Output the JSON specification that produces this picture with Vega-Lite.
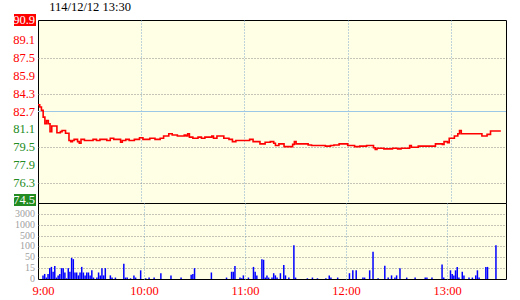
{
  "$schema": "https://vega.github.io/schema/vega-lite/v6.json",
  "background": "white",
  "padding": {"left": 13, "top": 0, "right": 0, "bottom": 0},
  "title": {"text": "114/12/12 13:30", "anchor": "start", "dx": 36, "font": "Liberation Serif", "fontSize": 12.5, "fontWeight": "normal", "color": "black", "offset": 1},
  "config": {"view": {"stroke": null}, "axis": {"title": null}},
  "columns": 2,
  "spacing": {"row": 0, "column": 2},
  "bounds": "flush",
  "datasets": {
    "priceLabels": [
      {"price": 90.9, "kind": "limitup"},
      {"price": 89.1, "kind": "up"},
      {"price": 87.5, "kind": "up"},
      {"price": 85.9, "kind": "up"},
      {"price": 84.3, "kind": "up"},
      {"price": 82.7, "kind": "up"},
      {"price": 81.1, "kind": "down"},
      {"price": 79.5, "kind": "down"},
      {"price": 77.9, "kind": "down"},
      {"price": 76.3, "kind": "down"},
      {"price": 74.5, "kind": "limitdown"}
    ],
    "volLabels": [
      {"vol": 3000}, {"vol": 1000}, {"vol": 500}, {"vol": 100}, {"vol": 50}, {"vol": 15}, {"vol": 0}
    ],
    "price": [
      {"t": 0, "p": 83.3}, {"t": 1, "p": 83.1}, {"t": 2, "p": 82.8}, {"t": 3, "p": 82.2}, {"t": 4, "p": 81.6},
      {"t": 5, "p": 81.9}, {"t": 6, "p": 81.6}, {"t": 7, "p": 80.9}, {"t": 8, "p": 81.4}, {"t": 11, "p": 80.8},
      {"t": 13, "p": 80.9}, {"t": 14, "p": 81.0}, {"t": 16, "p": 80.75}, {"t": 18, "p": 80.1}, {"t": 19, "p": 80.0},
      {"t": 20, "p": 80.1}, {"t": 21, "p": 80.2}, {"t": 23, "p": 80.0}, {"t": 24, "p": 79.85}, {"t": 25, "p": 80.2},
      {"t": 27, "p": 80.1}, {"t": 30, "p": 80.1}, {"t": 32, "p": 80.2}, {"t": 34, "p": 80.1}, {"t": 36, "p": 80.2},
      {"t": 40, "p": 80.1}, {"t": 42, "p": 80.3}, {"t": 44, "p": 80.2}, {"t": 48, "p": 79.95}, {"t": 49, "p": 80.1},
      {"t": 51, "p": 80.2}, {"t": 53, "p": 80.1}, {"t": 56, "p": 80.2}, {"t": 59, "p": 80.35}, {"t": 61, "p": 80.2},
      {"t": 65, "p": 80.3}, {"t": 68, "p": 80.2}, {"t": 71, "p": 80.3}, {"t": 73, "p": 80.5}, {"t": 76, "p": 80.7},
      {"t": 78, "p": 80.6}, {"t": 81, "p": 80.5}, {"t": 85, "p": 80.6}, {"t": 86, "p": 80.5}, {"t": 87, "p": 80.7},
      {"t": 88, "p": 80.4}, {"t": 90, "p": 80.3}, {"t": 93, "p": 80.4}, {"t": 95, "p": 80.3}, {"t": 97, "p": 80.4},
      {"t": 101, "p": 80.5}, {"t": 102, "p": 80.3}, {"t": 104, "p": 80.5}, {"t": 108, "p": 80.3}, {"t": 111, "p": 80.2},
      {"t": 113, "p": 80.0}, {"t": 115, "p": 80.1}, {"t": 123, "p": 80.2}, {"t": 125, "p": 80.0}, {"t": 129, "p": 79.8},
      {"t": 132, "p": 79.95}, {"t": 135, "p": 80.0}, {"t": 137, "p": 79.85}, {"t": 138, "p": 79.65}, {"t": 140, "p": 79.8},
      {"t": 143, "p": 79.55}, {"t": 148, "p": 79.75}, {"t": 149, "p": 80.0}, {"t": 150, "p": 79.8}, {"t": 157, "p": 79.7},
      {"t": 159, "p": 79.65}, {"t": 167, "p": 79.6}, {"t": 170, "p": 79.65}, {"t": 172, "p": 79.7}, {"t": 175, "p": 79.8},
      {"t": 180, "p": 79.65}, {"t": 184, "p": 79.55}, {"t": 187, "p": 79.6}, {"t": 191, "p": 79.65}, {"t": 195, "p": 79.45},
      {"t": 196, "p": 79.3}, {"t": 197, "p": 79.4}, {"t": 201, "p": 79.35}, {"t": 206, "p": 79.4}, {"t": 209, "p": 79.35},
      {"t": 211, "p": 79.4}, {"t": 216, "p": 79.65}, {"t": 217, "p": 79.5}, {"t": 221, "p": 79.6}, {"t": 231, "p": 79.8},
      {"t": 235, "p": 79.75}, {"t": 236, "p": 80.0}, {"t": 238, "p": 79.9}, {"t": 239, "p": 80.3}, {"t": 242, "p": 80.5},
      {"t": 244, "p": 80.7}, {"t": 245, "p": 81.0}, {"t": 246, "p": 80.7}, {"t": 258, "p": 80.5}, {"t": 261, "p": 80.65},
      {"t": 263, "p": 80.95}, {"t": 269, "p": 80.95}
    ],
    "vol": [
      {"t": 0, "v": 5}, {"t": 1, "v": 7}, {"t": 2, "v": 2}, {"t": 3, "v": 7}, {"t": 4, "v": 15}, {"t": 5, "v": 19},
      {"t": 6, "v": 10}, {"t": 7, "v": 22}, {"t": 8, "v": 2}, {"t": 9, "v": 5}, {"t": 10, "v": 7}, {"t": 11, "v": 15},
      {"t": 12, "v": 15}, {"t": 13, "v": 9}, {"t": 14, "v": 1}, {"t": 15, "v": 15}, {"t": 16, "v": 10}, {"t": 17, "v": 48},
      {"t": 18, "v": 44}, {"t": 19, "v": 9}, {"t": 20, "v": 9}, {"t": 21, "v": 5}, {"t": 22, "v": 9}, {"t": 23, "v": 19},
      {"t": 24, "v": 9}, {"t": 25, "v": 5}, {"t": 26, "v": 9}, {"t": 27, "v": 9}, {"t": 28, "v": 5}, {"t": 29, "v": 12},
      {"t": 30, "v": 2}, {"t": 32, "v": 2}, {"t": 33, "v": 9}, {"t": 34, "v": 5}, {"t": 35, "v": 15}, {"t": 36, "v": 5},
      {"t": 37, "v": 15}, {"t": 40, "v": 5}, {"t": 41, "v": 2}, {"t": 43, "v": 2}, {"t": 48, "v": 29}, {"t": 49, "v": 2},
      {"t": 50, "v": 2}, {"t": 52, "v": 1}, {"t": 54, "v": 5}, {"t": 55, "v": 2}, {"t": 58, "v": 12}, {"t": 61, "v": 1},
      {"t": 63, "v": 2}, {"t": 66, "v": 2}, {"t": 70, "v": 8}, {"t": 76, "v": 5}, {"t": 82, "v": 2}, {"t": 88, "v": 6},
      {"t": 89, "v": 7}, {"t": 90, "v": 15}, {"t": 100, "v": 9}, {"t": 109, "v": 2}, {"t": 112, "v": 10}, {"t": 113, "v": 10},
      {"t": 114, "v": 22}, {"t": 117, "v": 2}, {"t": 118, "v": 1}, {"t": 119, "v": 5}, {"t": 122, "v": 2}, {"t": 125, "v": 19},
      {"t": 126, "v": 10}, {"t": 127, "v": 5}, {"t": 130, "v": 44}, {"t": 131, "v": 42}, {"t": 132, "v": 2}, {"t": 133, "v": 5},
      {"t": 134, "v": 2}, {"t": 136, "v": 2}, {"t": 137, "v": 8}, {"t": 138, "v": 5}, {"t": 139, "v": 2}, {"t": 141, "v": 8},
      {"t": 143, "v": 25}, {"t": 144, "v": 5}, {"t": 146, "v": 2}, {"t": 149, "v": 145}, {"t": 150, "v": 2}, {"t": 157, "v": 1},
      {"t": 160, "v": 2}, {"t": 163, "v": 1}, {"t": 168, "v": 1}, {"t": 170, "v": 5}, {"t": 171, "v": 2}, {"t": 175, "v": 2},
      {"t": 182, "v": 8}, {"t": 184, "v": 12}, {"t": 186, "v": 12}, {"t": 190, "v": 2}, {"t": 191, "v": 2}, {"t": 194, "v": 12},
      {"t": 196, "v": 75}, {"t": 199, "v": 1}, {"t": 203, "v": 23}, {"t": 205, "v": 2}, {"t": 207, "v": 5}, {"t": 209, "v": 2},
      {"t": 210, "v": 5}, {"t": 212, "v": 15}, {"t": 216, "v": 2}, {"t": 221, "v": 2}, {"t": 227, "v": 2}, {"t": 228, "v": 2},
      {"t": 231, "v": 2}, {"t": 237, "v": 27}, {"t": 238, "v": 2}, {"t": 242, "v": 12}, {"t": 243, "v": 7}, {"t": 244, "v": 5},
      {"t": 245, "v": 12}, {"t": 246, "v": 19}, {"t": 247, "v": 2}, {"t": 249, "v": 10}, {"t": 250, "v": 5}, {"t": 253, "v": 2},
      {"t": 255, "v": 2}, {"t": 257, "v": 5}, {"t": 258, "v": 12}, {"t": 259, "v": 2}, {"t": 263, "v": 19}, {"t": 264, "v": 19},
      {"t": 269, "v": 145}
    ]
  },
  "concat": [
    {
      "width": 22, "height": 183,
      "data": {"name": "priceLabels"},
      "encoding": {
        "y": {"field": "price", "type": "quantitative", "scale": {"domain": [74.5, 90.9], "nice": false, "zero": false}, "axis": null}
      },
      "layer": [
        {
          "transform": [{"filter": "datum.kind == 'limitup'"}],
          "mark": {"type": "rect", "height": 12, "color": "#ff0000"}
        },
        {
          "transform": [{"filter": "datum.kind == 'limitdown'"}],
          "mark": {"type": "rect", "height": 12, "color": "#228b22", "yOffset": -3}
        },
        {
          "transform": [{"filter": "datum.kind != 'limitdown'"}],
          "mark": {"type": "text", "align": "right", "baseline": "middle", "font": "Liberation Serif", "fontSize": 12.5, "dx": -1},
          "encoding": {
            "x": {"value": "width"},
            "text": {"field": "price", "type": "quantitative", "format": ".1f"},
            "color": {"field": "kind", "type": "nominal", "scale": {"domain": ["limitup", "up", "down"], "range": ["#ffffff", "#ff0000", "#228b22"]}, "legend": null}
          }
        },
        {
          "transform": [{"filter": "datum.kind == 'limitdown'"}],
          "mark": {"type": "text", "align": "right", "baseline": "middle", "font": "Liberation Serif", "fontSize": 12.5, "dx": -1, "dy": -3, "color": "#ffffff"},
          "encoding": {
            "x": {"value": "width"},
            "text": {"field": "price", "type": "quantitative", "format": ".1f"}
          }
        }
      ]
    },
    {
      "width": 468, "height": 183,
      "view": {"fill": "#ffffe6", "stroke": "#000000", "strokeWidth": 1},
      "layer": [
        {
          "data": {"values": [{}]},
          "mark": {"type": "rule", "color": "#9bc8e6", "strokeWidth": 1.2},
          "encoding": {"y": {"datum": 82.7, "type": "quantitative", "scale": {"domain": [74.5, 90.9], "nice": false, "zero": false}}}
        },
        {
          "data": {"name": "price"},
          "mark": {"type": "line", "color": "#ff0000", "strokeWidth": 1.6, "interpolate": "step-after"},
          "encoding": {
            "x": {"field": "t", "type": "quantitative", "scale": {"domain": [0, 272], "nice": false, "zero": false},
              "axis": {"values": [0, 60, 120, 180, 240], "grid": true, "gridColor": "#7fa8cc", "gridDash": [1, 2], "gridOpacity": {"condition": {"test": "datum.value == 0", "value": 0}, "value": 1}, "labels": false, "ticks": false, "domain": false, "title": null}},
            "y": {"field": "p", "type": "quantitative", "scale": {"domain": [74.5, 90.9], "nice": false, "zero": false},
              "axis": {"values": [76.3, 77.9, 79.5, 81.1, 84.3, 85.9, 87.5, 89.1], "grid": true, "gridColor": "#888888", "gridDash": [1, 2], "labels": false, "ticks": false, "domain": false, "title": null}}
          }
        }
      ]
    },
    {
      "width": 22, "height": 76,
      "data": {"name": "volLabels"},
      "mark": {"type": "text", "align": "right", "baseline": "middle", "font": "Liberation Serif", "fontSize": 10, "dx": -1, "color": "#a0a0a0"},
      "encoding": {
        "x": {"value": "width"},
        "y": {"field": "vol", "type": "quantitative", "scale": {"domain": [0, 15, 50, 100, 500, 1000, 3000, 6000], "range": [76, 65.14, 54.29, 43.43, 32.57, 21.71, 10.86, 0], "nice": false, "zero": false}, "axis": null},
        "text": {"field": "vol", "type": "quantitative", "format": "d"}
      }
    },
    {
      "width": 468, "height": 76,
      "view": {"fill": "#ffffe6", "stroke": "#000000", "strokeWidth": 1},
      "data": {"name": "vol"},
      "mark": {"type": "bar", "color": "#0000ff", "width": 1.5},
      "encoding": {
        "x": {"field": "t", "type": "quantitative", "scale": {"domain": [0, 272], "nice": false, "zero": false},
          "axis": {"values": [0, 60, 120, 180, 240], "labelExpr": "(9 + datum.value / 60) + ':00'", "labelColor": "#ff0000", "labelFont": "Liberation Serif", "labelFontSize": 12.5, "labelPadding": 5, "labelFlush": false, "labelOverlap": false, "grid": true, "gridColor": "#7fa8cc", "gridDash": [1, 2], "gridOpacity": {"condition": {"test": "datum.value == 0", "value": 0}, "value": 1}, "ticks": false, "domain": false, "title": null}},
        "y": {"field": "v", "type": "quantitative", "scale": {"domain": [0, 15, 50, 100, 500, 1000, 3000, 6000], "range": [76, 65.14, 54.29, 43.43, 32.57, 21.71, 10.86, 0], "nice": false, "zero": false},
          "axis": {"values": [15, 50, 100, 500, 1000, 3000], "grid": true, "gridColor": "#888888", "gridDash": [1, 2], "labels": false, "ticks": false, "domain": false, "title": null}}
      }
    }
  ]
}
